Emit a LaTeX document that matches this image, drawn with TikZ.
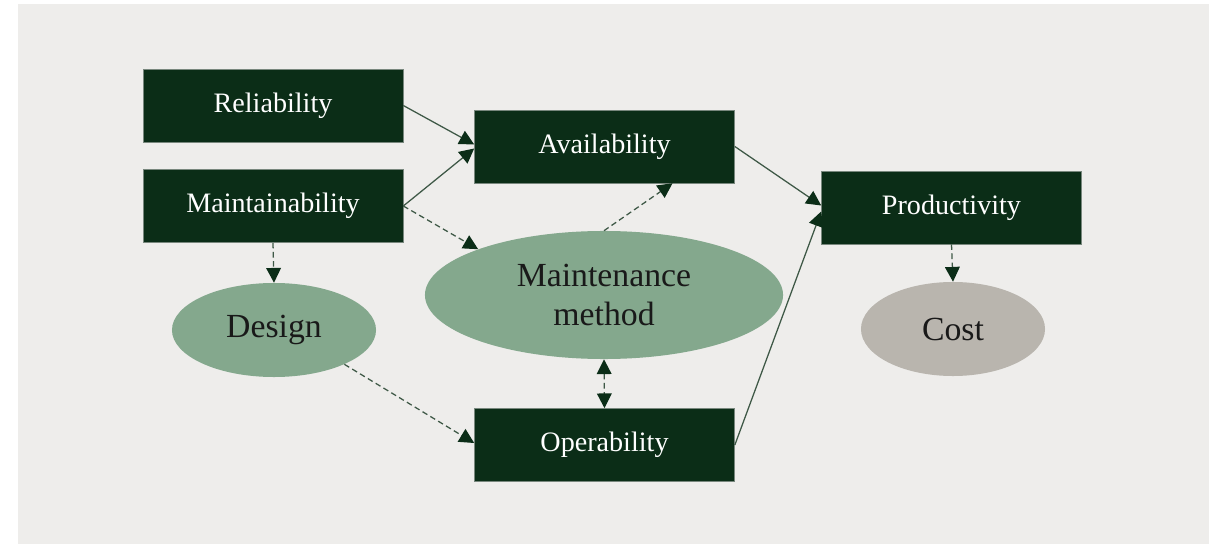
\documentclass[tikz,border=0pt]{standalone}
\usepackage{fontspec}
\setmainfont{Liberation Serif}
\usetikzlibrary{arrows.meta,shapes.geometric}

\begin{document}
\begin{tikzpicture}[x=0.025cm, y=-0.025cm,
    factor/.style={rectangle, fill=boxgreen, draw=boxedge, line width=0.4pt,
      minimum width=6.5cm, minimum height=1.825cm, text=white,
      font=\fontsize{20}{24}\selectfont},
    aspect/.style={ellipse, inner sep=0pt, text=black!90,
      font=\fontsize{24}{28}\selectfont, align=center},
    tip/.tip={Triangle[length=10.5pt, width=10.5pt, color=boxgreen, fill=boxgreen]},
    link/.style={draw=linegrey, line width=0.9pt, -tip},
    hint/.style={link, dash pattern=on 4pt off 2.5pt}]
  % Define colors
  \definecolor{bggrey}{RGB}{238,237,235}
  \definecolor{boxgreen}{RGB}{11,45,23}
  \definecolor{boxedge}{RGB}{120,135,125}
  \definecolor{softgreen}{RGB}{132,168,141}
  \definecolor{costgrey}{RGB}{185,181,174}
  \definecolor{linegrey}{RGB}{62,88,70}

  % Canvas
  \useasboundingbox (0,0) rectangle (1209,544);
  \fill[bggrey] (18,4) rectangle (1209,544);

  % Factors
  \node[factor] (reliab) at (273,105.5) {Reliability};
  \node[factor] (maintain) at (273,206) {Maintainability};
  \node[factor] (avail) at (604.5,146.5) {Availability};
  \node[factor] (oper) at (604.5,445) {Operability};
  \node[factor] (prod) at (951.5,207.5) {Productivity};

  % Aspects
  \node[aspect, fill=softgreen, minimum width=5.1cm, minimum height=2.35cm] (design) at (274,330) {Design};
  \node[aspect, fill=softgreen, minimum width=8.95cm, minimum height=3.2cm] (method) at (604,295) {Maintenance\\method};
  \node[aspect, fill=costgrey, minimum width=4.6cm, minimum height=2.35cm] (cost) at (953,329) {Cost};

  % Solid links
  \draw[link] (reliab.east) -- ([yshift=0.05cm]avail.west);
  \draw[link] (maintain.east) -- ([yshift=-0.05cm]avail.west);
  \draw[link] (avail.east) -- ([yshift=0.05cm]prod.west);
  \draw[link] (oper.east) -- ([yshift=-0.1cm]prod.west);

  % Dashed links
  \draw[hint] (maintain.east) -- (method.160);
  \draw[hint] (maintain.south) -- (design.north);
  \draw[hint] (method.north) -- ([xshift=1.7cm]avail.south);
  \draw[hint] (design.-26) -- ([yshift=0.05cm]oper.west);
  \draw[hint, tip-tip] (method.south) -- (oper.north);
  \draw[hint] (prod.south) -- (cost.north);
\end{tikzpicture}
\end{document}
